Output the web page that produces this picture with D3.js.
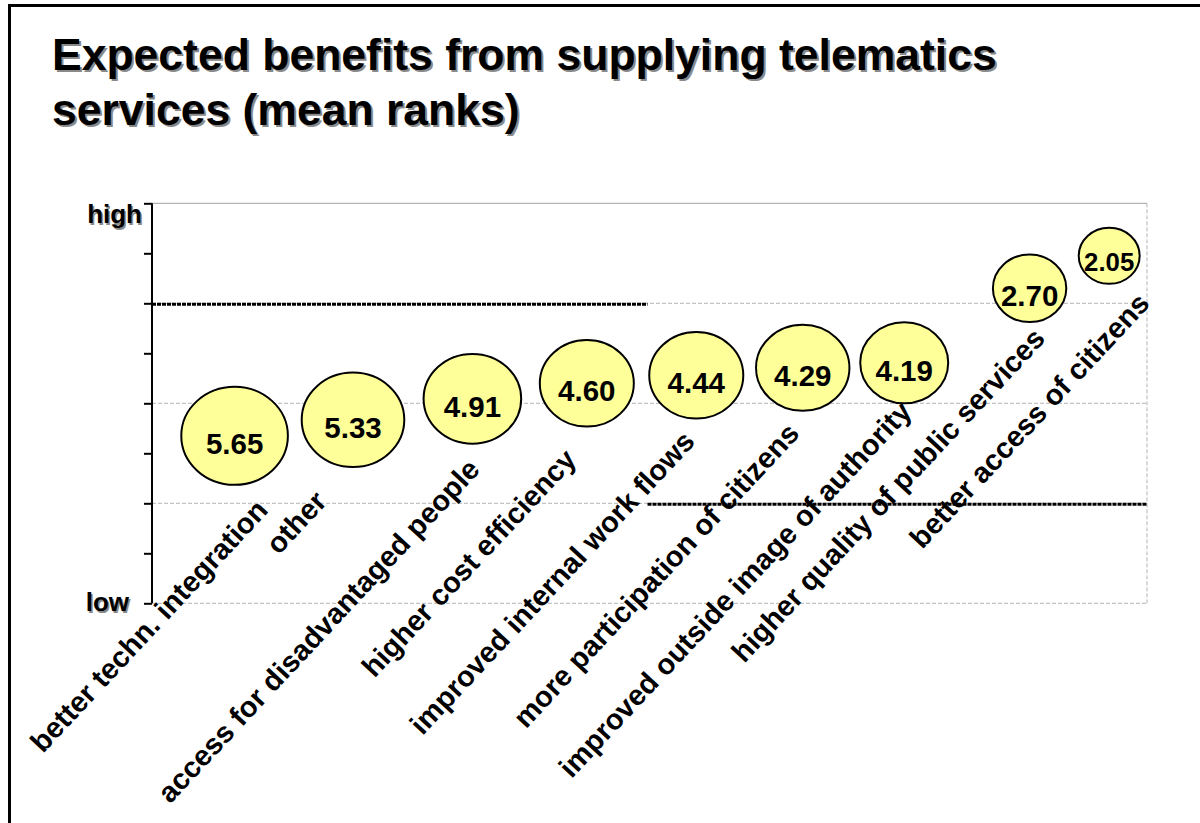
<!DOCTYPE html>
<html>
<head>
<meta charset="utf-8">
<script src="https://cdn.jsdelivr.net/npm/d3@7"></script>
<style>
  html, body { margin: 0; padding: 0; background: #ffffff; }
  svg { display: block; }
  text { font-family: "Liberation Sans", Arial, sans-serif; font-weight: bold; }
</style>
</head>
<body>
<script>
// ---------- data ----------
const categories = [
  "better techn. integration",
  "other",
  "access for disadvantaged people",
  "higher cost efficiency",
  "improved internal work flows",
  "more participation of citizens",
  "improved outside image of authority",
  "higher quality of public services",
  "better access of citizens"
];
const meanRanks = [5.65, 5.33, 4.91, 4.60, 4.44, 4.29, 4.19, 2.70, 2.05];
const bubbleX = [0.83, 2.02, 3.22, 4.37, 5.47, 6.54, 7.56, 8.82, 9.62];
const bubbleSize = [100, 92.6, 83.8, 77.8, 77.8, 76.8, 68.1, 47.4, 32.7];
// label anchor (end of text) in chart units
const labelX = [1.18, 1.77, 3.31, 4.28, 5.47, 6.52, 7.65, 8.99, 10.04];
const labelY = [7.16, 6.99, 6.35, 6.15, 5.79, 5.63, 5.19, 3.73, 3.03];
const yTicks = [1, 2, 3, 4, 5, 6, 7, 8, 9];
const yGrid = [3, 5, 7, 9];
const axisLabels = ["high", "low"];
const titleLines = ["Expected benefits from supplying telematics", "services (mean ranks)"];

// ---------- layout ----------
const W = 1200, H = 823;
const plot = { left: 152, right: 1147, top: 203.3, bottom: 603.3 };

const svg = d3.select("body").append("svg").attr("width", W).attr("height", H);

// outer frame (extends beyond the page on right and bottom)
svg.append("rect")
  .attr("x", 9.5).attr("y", 5.5)
  .attr("width", W + 20).attr("height", H + 20)
  .attr("fill", "none").attr("stroke", "#000").attr("stroke-width", 3);

// title with shadow
const title = svg.append("g");
titleLines.forEach((t, i) => {
  title.append("text")
    .attr("x", 54).attr("y", 72 + i * 55)
    .attr("font-size", 44.5).attr("fill", "#8a8a8a").text(t);
  title.append("text")
    .attr("x", 52).attr("y", 70 + i * 55)
    .attr("font-size", 44.5).attr("fill", "#000").text(t);
});

const x = d3.scaleLinear().domain([0, 10]).range([plot.left, plot.right]);
const y = d3.scaleLinear().domain([1, 9]).range([plot.top, plot.bottom]);
const r = d3.scaleSqrt().domain([0, 100]).range([0, 53.3]);
const aspect = 0.92;

// plot border: top solid gray, right dashed gray
svg.append("line")
  .attr("x1", plot.left).attr("x2", plot.right)
  .attr("y1", y(1)).attr("y2", y(1))
  .attr("stroke", "#b4b4b4").attr("stroke-width", 1.2);
svg.append("line")
  .attr("x1", plot.right).attr("x2", plot.right)
  .attr("y1", plot.top).attr("y2", plot.bottom)
  .attr("stroke", "#b4b4b4").attr("stroke-width", 1).attr("stroke-dasharray", "4,2");

// gridlines
svg.append("g").selectAll("line").data(yGrid).join("line")
  .attr("x1", plot.left).attr("x2", plot.right)
  .attr("y1", d => y(d)).attr("y2", d => y(d))
  .attr("stroke", "#b4b4b4").attr("stroke-width", 1).attr("stroke-dasharray", "4,2");

// black dotted reference lines
const splitX = 4.98;
svg.append("line")
  .attr("x1", x(0)).attr("x2", x(splitX))
  .attr("y1", y(3) + 1).attr("y2", y(3) + 1)
  .attr("stroke", "#000").attr("stroke-width", 3).attr("stroke-dasharray", "4,1");
svg.append("line")
  .attr("x1", x(splitX)).attr("x2", x(10))
  .attr("y1", y(7) + 1).attr("y2", y(7) + 1)
  .attr("stroke", "#000").attr("stroke-width", 3).attr("stroke-dasharray", "4,1");

// y axis
const yAxis = d3.axisLeft(y).tickValues(yTicks).tickSize(8).tickFormat("");
const ya = svg.append("g").attr("transform", `translate(${plot.left},0)`).call(yAxis);
ya.select(".domain").attr("stroke", "#000").attr("stroke-width", 2).attr("d", `M0,${plot.top}V${plot.bottom}`);
ya.selectAll(".tick line").attr("stroke", "#000").attr("stroke-width", 2);

// high / low labels with shadow
const hl = [
  { t: axisLabels[0], xx: plot.left - 10, yy: y(1) + 20 },
  { t: axisLabels[1], xx: plot.left - 23, yy: y(9) + 8 }
];
hl.forEach(d => {
  svg.append("text").attr("x", d.xx + 1.5).attr("y", d.yy + 1.5)
    .attr("text-anchor", "end").attr("font-size", 26).attr("fill", "#8a8a8a").text(d.t);
  svg.append("text").attr("x", d.xx).attr("y", d.yy)
    .attr("text-anchor", "end").attr("font-size", 26).attr("fill", "#000").text(d.t);
});

const data = categories.map((c, i) => ({
  cat: c, rank: meanRanks[i], bx: bubbleX[i], size: bubbleSize[i],
  lx: labelX[i], ly: labelY[i]
}));

// category labels, rotated
svg.append("g").selectAll("text").data(data).join("text")
  .attr("transform", d => `translate(${x(d.lx)},${y(d.ly)}) rotate(-47)`)
  .attr("text-anchor", "end")
  .attr("font-size", 29)
  .attr("fill", "#000")
  .text(d => d.cat);

// bubbles
const bub = svg.append("g").selectAll("g").data(data).join("g")
  .attr("transform", d => `translate(${x(d.bx)},${y(d.rank)})`);
bub.append("ellipse")
  .attr("rx", d => r(d.size))
  .attr("ry", d => r(d.size) * aspect)
  .attr("fill", "#ffff99")
  .attr("stroke", "#000").attr("stroke-width", 2);
bub.append("text")
  .attr("text-anchor", "middle")
  .attr("font-size", d => Math.min(29.5, 1.65 * r(d.size) / 1.95))
  .attr("y", d => Math.min(29.5, 1.65 * r(d.size) / 1.95) * 0.6)
  .attr("fill", "#000")
  .text(d => d3.format(".2f")(d.rank));
</script>
</body>
</html>
